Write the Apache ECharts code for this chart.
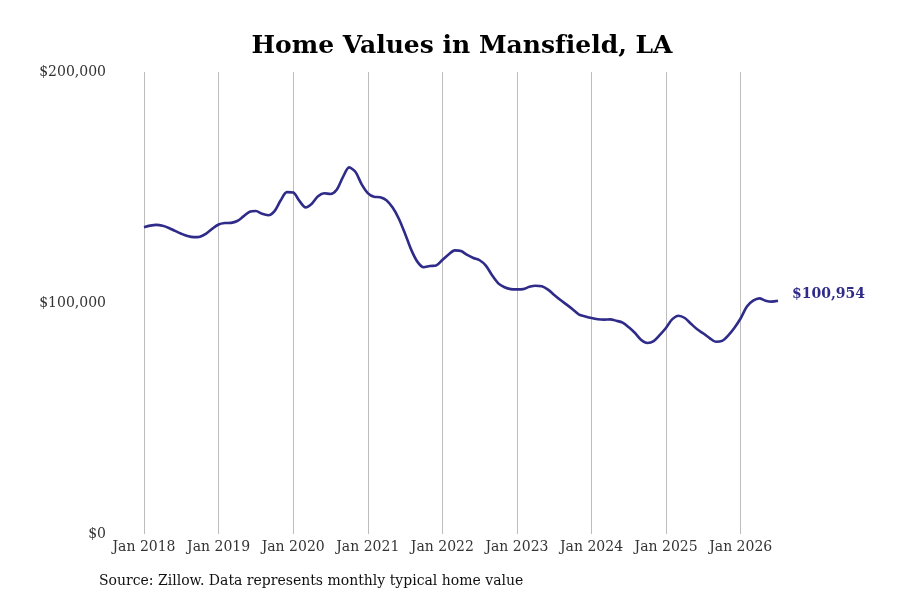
<!DOCTYPE html>
<html>
<head>
<meta charset="utf-8">
<title>Home Values in Mansfield, LA</title>
<script src="https://cdn.jsdelivr.net/npm/echarts@6/dist/echarts.min.js"></script>
<style>
  html, body { margin: 0; padding: 0; background: #fff; }
  #main { width: 900px; height: 600px; }
</style>
</head>
<body>
<div id="main"></div>
<script>
// month names, chart starts Jan 2018
var monthNames = ['Jan', 'Feb', 'Mar', 'Apr', 'May', 'Jun', 'Jul', 'Aug', 'Sep', 'Oct', 'Nov', 'Dec'];
var startYear = 2018;

// typical home value, monthly (thousands of dollars), Jan 2018 .. Jul 2026
var values2018 = [132.8, 133.5, 133.8, 133.4, 132.5, 131.2, 130.0, 129.0, 128.5, 128.7, 130.0, 132.2];
var values2019 = [134.0, 134.6, 134.7, 135.5, 137.5, 139.5, 139.8, 138.6, 138.0, 139.8, 144.5, 148.0];
var values2020 = [147.8, 144.2, 141.4, 143.0, 146.2, 147.5, 147.2, 149.0, 154.5, 158.7, 156.8, 151.5];
var values2021 = [147.6, 146.0, 145.8, 144.5, 141.3, 136.5, 130.0, 123.0, 117.8, 115.5, 116.0, 116.2];
var values2022 = [118.6, 121.0, 122.8, 122.5, 120.8, 119.5, 118.5, 116.2, 112.0, 108.5, 106.8, 106.0];
var values2023 = [105.9, 106.0, 107.0, 107.5, 107.3, 105.8, 103.5, 101.3, 99.3, 97.2, 95.0, 94.2];
var values2024 = [93.5, 93.0, 92.8, 92.9, 92.3, 91.5, 89.5, 87.0, 84.0, 82.7, 83.5, 86.2];
var values2025 = [89.3, 93.0, 94.5, 93.5, 91.0, 88.6, 86.8, 84.8, 83.2, 83.6, 86.0, 89.3];
var values2026 = [93.4, 98.5, 101.0, 102.0, 101.0, 100.6, 100.954];

// y axis ticks
var yMin = 0;
var yMax = 200000;
var yStep = 100000;

var values = [].concat(values2018, values2019, values2020, values2021, values2022,
  values2023, values2024, values2025, values2026).map(function (v) { return Math.round(v * 1000); });

var categories = values.map(function (v, i) {
  return monthNames[i % 12] + ' ' + (startYear + Math.floor(i / 12));
});

function money(v) {
  return '$' + Math.round(v).toString().replace(/\B(?=(\d{3})+(?!\d))/g, ',');
}

var lineColor = '#2f2b89';
var serif = '"DejaVu Serif", serif';

var myChart = echarts.init(document.getElementById('main'));

var option = {
  backgroundColor: '#ffffff',
  animation: false,
  title: {
    // zero-width non-joiner keeps "f" and "i" apart
    text: 'Home Values in Mansf\u200Cield, LA',
    left: 457,
    textAlign: 'center',
    top: 29,
    textStyle: {
      fontFamily: serif,
      fontWeight: 'bold',
      fontSize: 25,
      color: '#000'
    }
  },
  grid: {
    left: 144,
    right: 122,
    top: 72,
    bottom: 66
  },
  xAxis: {
    type: 'category',
    data: categories,
    boundaryGap: false,
    axisLine: { show: false },
    axisTick: { show: false },
    axisLabel: {
      interval: function (i) { return i % 12 === 0; },
      margin: 6,
      fontFamily: serif,
      fontSize: 14,
      color: '#333'
    },
    splitLine: {
      show: true,
      interval: function (i) { return i % 12 === 0; },
      lineStyle: { color: '#bdbdbd', width: 1 }
    }
  },
  yAxis: {
    type: 'value',
    min: yMin,
    max: yMax,
    interval: yStep,
    axisLine: { show: false },
    axisTick: { show: false },
    splitLine: { show: false },
    axisLabel: {
      margin: 38,
      padding: [4, 0, 0, 0],
      fontFamily: serif,
      fontSize: 14,
      color: '#333',
      formatter: money
    }
  },
  series: [
    {
      type: 'line',
      data: values,
      smooth: 0.3,
      symbol: 'none',
      lineStyle: { color: lineColor, width: 2.6 },
      endLabel: {
        show: true,
        distance: 14,
        offset: [0, -6],
        formatter: function (p) { return money(p.value); },
        fontFamily: serif,
        fontWeight: 'bold',
        fontSize: 14,
        color: lineColor
      }
    }
  ],
  graphic: [
    {
      type: 'text',
      left: 99,
      top: 574,
      style: {
        text: 'Source: Zillow. Data represents monthly typical home value',
        font: '14px ' + serif,
        fill: '#111'
      }
    }
  ]
};

myChart.setOption(option);
</script>
</body>
</html>
